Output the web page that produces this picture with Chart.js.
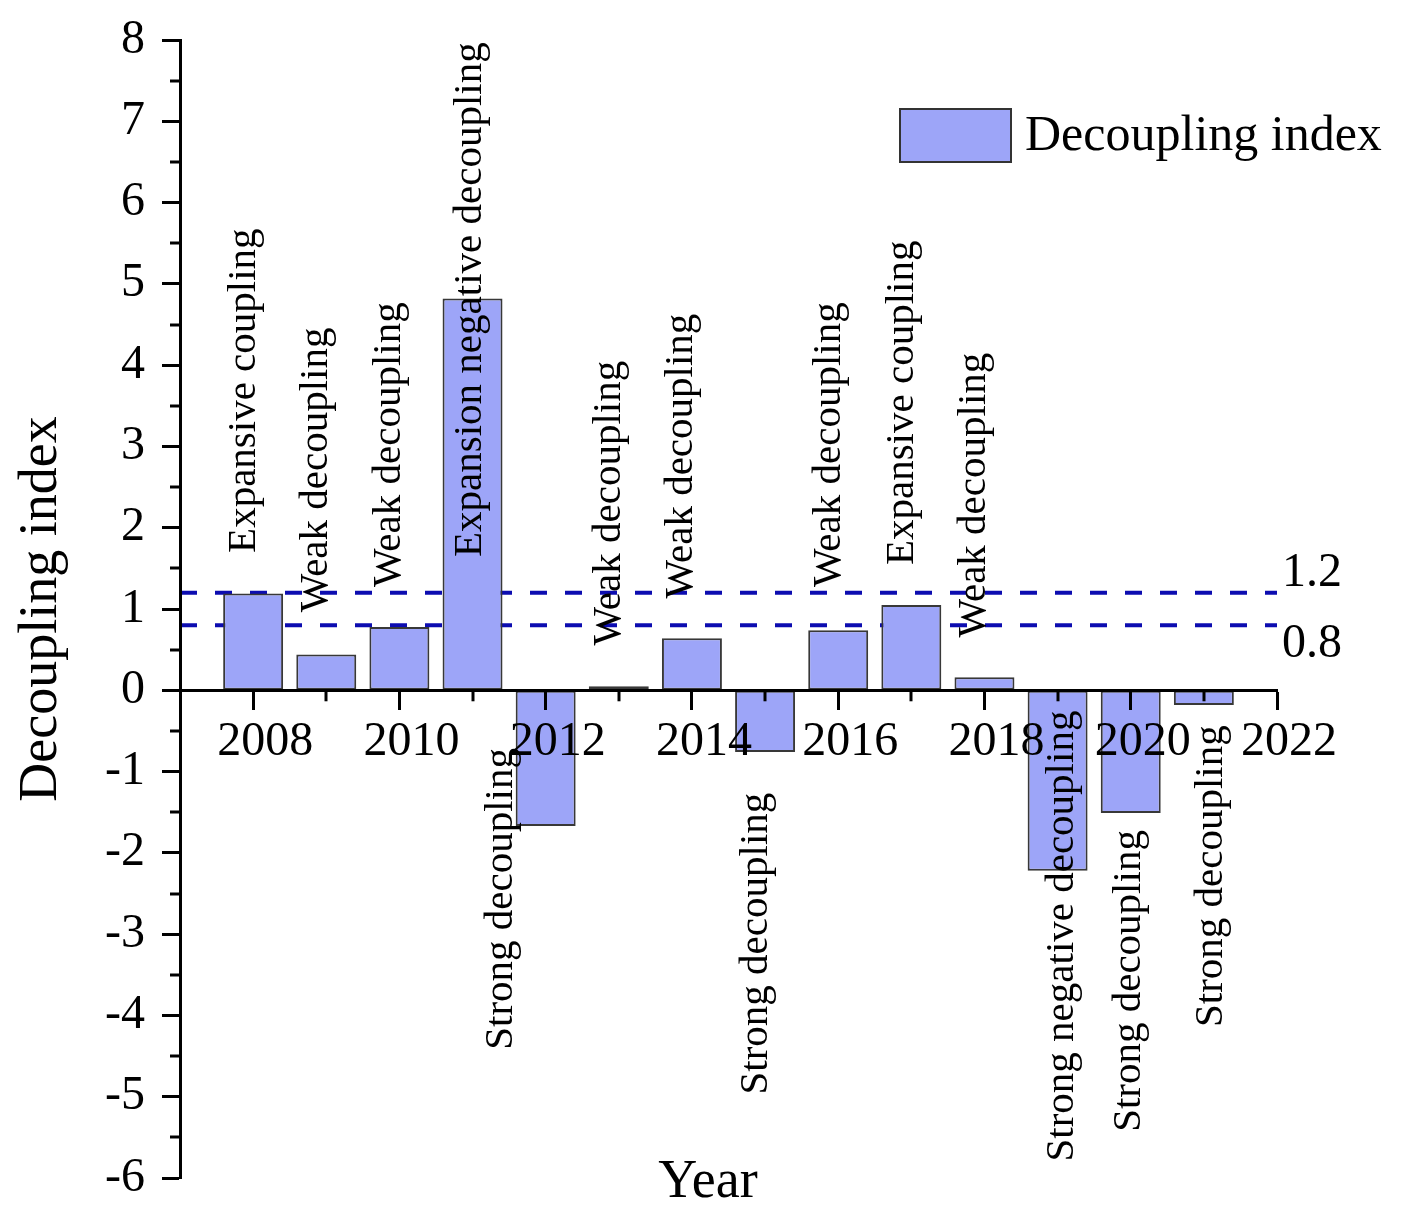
<!DOCTYPE html>
<html>
<head>
<meta charset="utf-8">
<script src="https://cdn.jsdelivr.net/npm/chart.js@4"></script>
<style>
html,body{margin:0;padding:0;background:#fff;}
#wrap{width:1411px;height:1227px;position:relative;}
</style>
</head>
<body>
<div id="wrap"><canvas id="c"></canvas></div>
<script>
// ---------- data ----------
const years = [2008, 2009, 2010, 2011, 2012, 2013, 2014, 2015, 2016, 2017, 2018, 2019, 2020, 2021];
const decouplingIndex = [1.19, 0.44, 0.78, 4.82, -1.67, 0.05, 0.64, -0.76, 0.74, 1.05, 0.16, -2.22, -1.51, -0.18];
const decouplingStates = [
  'Expansive coupling', 'Weak decoupling', 'Weak decoupling', 'Expansion negative decoupling',
  'Strong decoupling', 'Weak decoupling', 'Weak decoupling', 'Strong decoupling',
  'Weak decoupling', 'Expansive coupling', 'Weak decoupling', 'Strong negative decoupling',
  'Strong decoupling', 'Strong decoupling'
];
const thresholds = [1.2, 0.8];
const thresholdLabels = ['1.2', '0.8'];
const xTickYears = [2008, 2010, 2012, 2014, 2016, 2018, 2020, 2022];
const xMinorYears = [2009, 2011, 2013, 2015, 2017, 2019, 2021];
const yMinorValues = [-5.5, -4.5, -3.5, -2.5, -1.5, -0.5, 0.5, 1.5, 2.5, 3.5, 4.5, 5.5, 6.5, 7.5];
const seriesName = 'Decoupling index';
const xTitle = 'Year';
const yTitle = 'Decoupling index';

// ---------- styling / annotation anchors (data units) ----------
const FONT = '"Liberation Serif", "Times New Roman", serif';
const BAR_FILL = 'rgb(157,165,248)';
const BAR_EDGE = '#383838';
const annotationAnchors = {
  x: [2008.03, 2009.01, 2010.01, 2011.11, 2011.54, 2013.02, 2014.0, 2015.03, 2016.02, 2017.02, 2018.01, 2019.21, 2020.13, 2021.25],
  y: [1.69, 0.96, 1.27, 1.64, -0.71, 0.55, 1.13, -1.26, 1.27, 1.54, 0.65, -0.25, -1.72, -0.43]
};

const decor = {
  id: 'decor',
  beforeDatasetsDraw(chart) {
    const {ctx, chartArea, scales: {y}} = chart;
    ctx.save();
    ctx.strokeStyle = '#0c0cb0';
    ctx.lineWidth = 4;
    ctx.setLineDash([17, 18]);
    thresholds.forEach(t => {
      const py = y.getPixelForValue(t);
      ctx.beginPath();
      ctx.moveTo(chartArea.left, py);
      ctx.lineTo(chartArea.right, py);
      ctx.stroke();
    });
    ctx.restore();
  },
  afterDraw(chart) {
    const {ctx, chartArea, scales: {x, y}} = chart;
    ctx.save();
    // minor ticks
    ctx.strokeStyle = '#000';
    ctx.lineWidth = 3;
    const y0 = y.getPixelForValue(0);
    xMinorYears.forEach(v => {
      const px = Math.round(x.getPixelForValue(v));
      ctx.beginPath(); ctx.moveTo(px, y0); ctx.lineTo(px, y0 + 11); ctx.stroke();
    });
    yMinorValues.forEach(v => {
      const py = Math.round(y.getPixelForValue(v));
      ctx.beginPath(); ctx.moveTo(chartArea.left - 10, py); ctx.lineTo(chartArea.left, py); ctx.stroke();
    });

    // threshold labels
    ctx.fillStyle = '#000';
    ctx.font = '48px ' + FONT;
    ctx.textAlign = 'left';
    ctx.textBaseline = 'middle';
    thresholds.forEach((t, i) => {
      const py = y.getPixelForValue(t);
      ctx.fillText(thresholdLabels[i], chartArea.right + 5, py + (i === 0 ? -19 : 19));
    });

    // state annotations
    ctx.font = '41px ' + FONT;
    ctx.textBaseline = 'alphabetic';
    decouplingStates.forEach((txt, i) => {
      const px = x.getPixelForValue(annotationAnchors.x[i]);
      const py = y.getPixelForValue(annotationAnchors.y[i]);
      ctx.save();
      ctx.translate(px, py);
      ctx.rotate(-Math.PI / 2);
      ctx.textAlign = decouplingIndex[i] >= 0 ? 'left' : 'right';
      ctx.fillText(txt, 0, 0);
      ctx.restore();
    });

    // legend
    const ds = chart.data.datasets[0];
    ctx.fillStyle = ds.backgroundColor;
    ctx.fillRect(900, 109, 111, 53);
    ctx.strokeStyle = '#333';
    ctx.lineWidth = 2;
    ctx.strokeRect(900, 109, 111, 53);
    ctx.fillStyle = '#000';
    ctx.font = '50px ' + FONT;
    ctx.textAlign = 'left';
    ctx.textBaseline = 'middle';
    ctx.fillText(ds.label, 1025, 137);

    // x title
    ctx.font = '54px ' + FONT;
    ctx.textAlign = 'center';
    ctx.textBaseline = 'alphabetic';
    ctx.fillText(xTitle, 708, 1197);
    ctx.restore();
  }
};

new Chart(document.getElementById('c'), {
  type: 'bar',
  data: {
    datasets: [{
      label: seriesName,
      data: years.map((yr, i) => ({x: yr, y: decouplingIndex[i]})),
      backgroundColor: BAR_FILL,
      borderColor: BAR_EDGE,
      borderWidth: 2,
      borderSkipped: false,
      categoryPercentage: 1,
      barPercentage: 0.82
    }]
  },
  options: {
    responsive: true,
    maintainAspectRatio: false,
    animation: false,
    layout: {padding: {left: 0, top: 40, right: 134, bottom: 49}},
    plugins: {legend: {display: false}, tooltip: {enabled: false}, title: {display: false}},
    scales: {
      x: {
        type: 'linear',
        min: 2007, max: 2022,
        offset: false,
        position: {y: 0},
        afterBuildTicks(s) { s.ticks = xTickYears.map(v => ({value: v})); },
        ticks: {
          z: 2,
          autoSkip: false, maxRotation: 0, minRotation: 0,
          font: {family: FONT, size: 48}, color: '#000',
          padding: 5, labelOffset: 12,
          callback: v => String(v)
        },
        grid: {z: 1, display: true, drawOnChartArea: false, offset: false, tickLength: 18, tickWidth: 3, tickColor: '#000'},
        border: {z: 1, display: true, width: 3, color: '#000'}
      },
      y: {
        type: 'linear',
        min: -6, max: 8,
        ticks: {z: 1, stepSize: 1, font: {family: FONT, size: 48}, color: '#000', padding: 17},
        grid: {z: 1, display: true, drawOnChartArea: false, tickLength: 18, tickWidth: 3, tickColor: '#000'},
        border: {z: 1, display: true, width: 3, color: '#000'},
        title: {display: true, text: yTitle, font: {family: FONT, size: 54}, color: '#000', padding: {top: 9, bottom: 0}},
        afterFit(s) { s.width = 180; s.paddingTop = 0; s.paddingBottom = 0; }
      }
    }
  },
  plugins: [decor]
});
</script>
</body>
</html>
